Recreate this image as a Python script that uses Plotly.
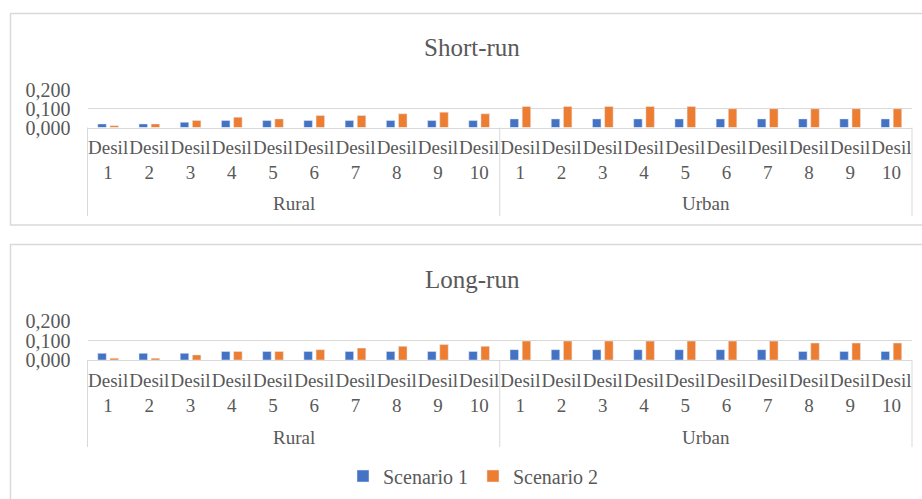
import plotly.graph_objects as go

groups = ["Rural"] * 10 + ["Urban"] * 10
decile_nums = ["1", "2", "3", "4", "5", "6", "7", "8", "9", "10"] * 2
group_names = ["Rural", "Urban"]

short_s1 = [0.019, 0.019, 0.028, 0.037, 0.037, 0.037, 0.037, 0.037, 0.037, 0.037,
            0.046, 0.046, 0.046, 0.046, 0.046, 0.046, 0.046, 0.046, 0.046, 0.046]
short_s2 = [0.010, 0.019, 0.037, 0.055, 0.046, 0.064, 0.064, 0.073, 0.082, 0.073,
            0.112, 0.112, 0.112, 0.112, 0.112, 0.100, 0.100, 0.100, 0.100, 0.100]
long_s1 = [0.034, 0.034, 0.034, 0.044, 0.044, 0.044, 0.044, 0.044, 0.044, 0.044,
           0.053, 0.053, 0.053, 0.053, 0.053, 0.053, 0.053, 0.044, 0.044, 0.044]
long_s2 = [0.009, 0.009, 0.026, 0.044, 0.044, 0.053, 0.061, 0.070, 0.079, 0.070,
           0.097, 0.097, 0.097, 0.097, 0.097, 0.097, 0.097, 0.087, 0.087, 0.087]

series_names = ["Scenario 1", "Scenario 2"]
titles = ["Short-run", "Long-run"]
y_ticks = [0.0, 0.1, 0.2]

BLUE = "#4472C4"
ORANGE = "#ED7D31"
TXT = "#595959"
GRID = "#D9D9D9"
FONT = "Liberation Serif"

W, H = 922, 499
def py(px):
    return 1 - px / H
def pxx(px):
    return px / W

# unique category keys, displayed as "Desil / n"
keys = [g + " " + d for g, d in zip(groups, decile_nums)]
tick_text = ["Desil<br>" + d for d in decile_nums]

fig = go.Figure()
fig.add_trace(go.Bar(x=keys, y=short_s1, name=series_names[0], marker_color=BLUE,
                     xaxis="x", yaxis="y", showlegend=True, legendgroup="s1"))
fig.add_trace(go.Bar(x=keys, y=short_s2, name=series_names[1], marker_color=ORANGE,
                     xaxis="x", yaxis="y", showlegend=True, legendgroup="s2"))
fig.add_trace(go.Bar(x=keys, y=long_s1, name=series_names[0], marker_color=BLUE,
                     xaxis="x2", yaxis="y2", showlegend=False, legendgroup="s1"))
fig.add_trace(go.Bar(x=keys, y=long_s2, name=series_names[1], marker_color=ORANGE,
                     xaxis="x2", yaxis="y2", showlegend=False, legendgroup="s2"))

xdom = [pxx(87.5), pxx(912)]
xcommon = dict(domain=xdom, type="category", tickvals=keys, ticktext=tick_text,
               showline=True, linecolor=GRID, linewidth=1,
               showgrid=False, ticks="", tickangle=0, automargin=False,
               ticklabelstandoff=3,
               tickfont=dict(family=FONT, size=19, color=TXT), fixedrange=True)
ycommon = dict(range=[0, 0.2], tickvals=y_ticks, tickformat=".3f",
               showgrid=True, gridcolor=GRID, gridwidth=1, zeroline=False,
               showline=False, ticks="", ticklabelstandoff=16, automargin=False,
               tickfont=dict(family=FONT, size=20, color=TXT), fixedrange=True)

# chart blocks (pixel positions of layout elements)
blocks = [
    dict(base=127.5, top=90, div_end=216, glabel=204, title=48, ftop=13.5, fbot=225),
    dict(base=360, top=321, div_end=447, glabel=437, title=279, ftop=244.5, fbot=530),
]

annotations = []
shapes = []
xmid = (xdom[0] + xdom[1]) / 2
for i, b in enumerate(blocks):
    annotations.append(dict(text=titles[i], x=pxx(472), y=py(b["title"]),
                            xref="paper", yref="paper", showarrow=False,
                            xanchor="center", yanchor="middle",
                            font=dict(family=FONT, size=25, color=TXT)))
    for j, gname in enumerate(group_names):
        gx = xdom[0] + (xdom[1] - xdom[0]) * (0.25 + 0.5 * j)
        annotations.append(dict(text=gname, x=gx, y=py(b["glabel"]),
                                xref="paper", yref="paper", showarrow=False,
                                xanchor="center", yanchor="middle",
                                font=dict(family=FONT, size=19, color=TXT)))
    for dx in (xdom[0], xmid, xdom[1]):
        shapes.append(dict(type="line", xref="paper", yref="paper", x0=dx, x1=dx,
                           y0=py(b["base"]), y1=py(b["div_end"]),
                           line=dict(color=GRID, width=1)))
    shapes.append(dict(type="rect", xref="paper", yref="paper", x0=pxx(10.5), x1=1.02,
                       y0=py(b["fbot"]), y1=py(b["ftop"]),
                       line=dict(color=GRID, width=1.5),
                       fillcolor="rgba(0,0,0,0)", layer="below"))

fig.update_layout(
    width=W, height=H,
    margin=dict(l=0, r=0, t=0, b=0, autoexpand=False),
    paper_bgcolor="white", plot_bgcolor="white",
    separators=",.",
    barmode="group", bargap=0.41, bargroupgap=0.3,
    font=dict(family=FONT, color=TXT),
    xaxis=dict(anchor="y", **xcommon),
    yaxis=dict(anchor="x", domain=[py(blocks[0]["base"]), py(blocks[0]["top"])], **ycommon),
    xaxis2=dict(anchor="y2", **xcommon),
    yaxis2=dict(anchor="x2", domain=[py(blocks[1]["base"]), py(blocks[1]["top"])], **ycommon),
    legend=dict(orientation="h", x=pxx(473), xanchor="center", y=py(476),
                yanchor="middle", font=dict(family=FONT, size=20, color=TXT),
                bgcolor="rgba(0,0,0,0)", itemwidth=30),
    annotations=annotations,
    shapes=shapes,
)

post = ("document.documentElement.style.margin='0';"
        "document.body.style.margin='0';"
        "document.body.style.overflow='hidden';")

fig.write_html("out.html", post_script=post, config={"displayModeBar": False})
